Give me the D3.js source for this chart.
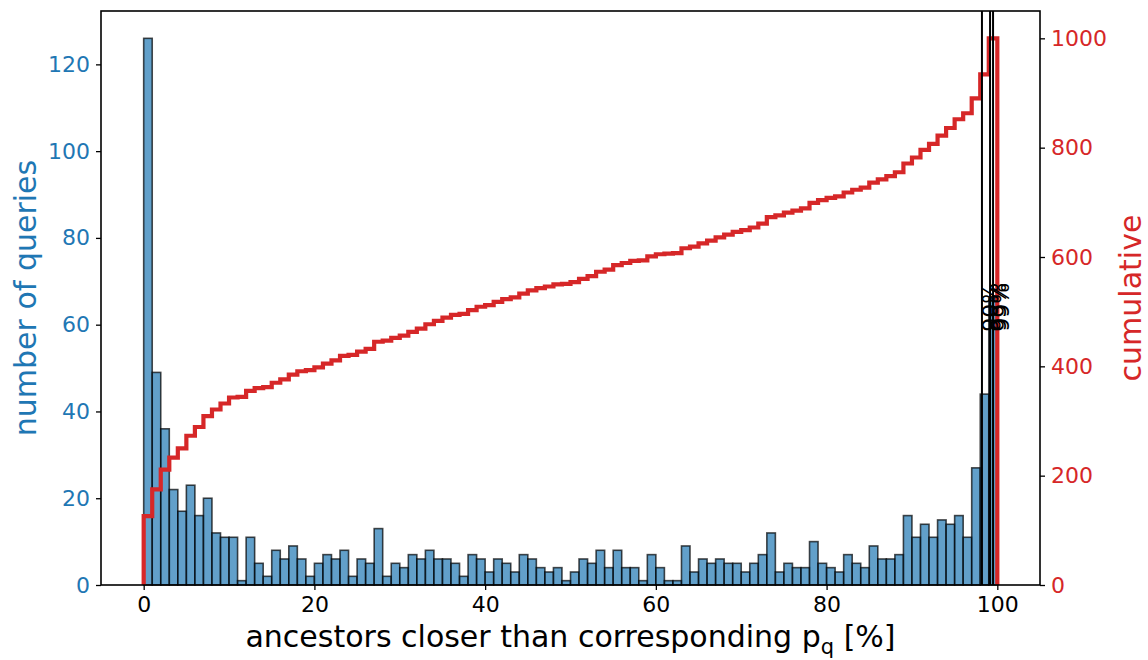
<!DOCTYPE html>
<html>
<head>
<meta charset="utf-8">
<script src="https://cdn.jsdelivr.net/npm/d3@7/dist/d3.min.js"></script>
<style>
  html, body { margin: 0; padding: 0; background: #fff; }
  svg { display: block; font-family: "DejaVu Sans", sans-serif; }
</style>
</head>
<body>
<svg id="chart" width="1148" height="660"></svg>
<script>
// ---- data ----
const binEdges = d3.range(0, 101);           // histogram bin edges, 0..100 (%)
const counts = [
  126, 49, 36, 22, 17, 23, 16, 20, 12, 11,
   11,  1, 11,  5,  2,  8,  6,  9,  6,  2,
    5,  7,  6,  8,  2,  6,  5, 13,  2,  5,
    4,  7,  6,  8,  6,  6,  5,  2,  7,  6,
    3,  6,  5,  3,  7,  6,  4,  3,  4,  1,
    3,  6,  5,  8,  4,  8,  4,  4,  1,  7,
    4,  1,  1,  9,  3,  6,  5,  6,  5,  5,
    3,  5,  7, 12,  3,  5,  4,  4, 10,  5,
    4,  3,  7,  5,  4,  9,  6,  6,  7, 16,
   11, 14, 11, 15, 14, 16, 11, 27, 44, 66
];
const percentileValues = [98.2, 99.15, 99.5];
const percentileLabels = ["90%", "95%", "99%"];
const xTicks = [0, 20, 40, 60, 80, 100];
const leftTicks = [0, 20, 40, 60, 80, 100, 120];
const rightTicks = [0, 200, 400, 600, 800, 1000];

// ---- layout ----
const L = 101, R = 1040, T = 11, B = 585;
const BLUE = "#1f77b4", RED = "#d62728";
const svg = d3.select("#chart");

const cumulative = Array.from(d3.cumsum(counts));
const maxCount = d3.max(counts);
const maxCum = cumulative[cumulative.length - 1];

const x = d3.scaleLinear().domain([-5, 105]).range([L, R]);
const yL = d3.scaleLinear().domain([0, maxCount * 1.05]).range([B, T]);
const yR = d3.scaleLinear().domain([0, maxCum * 1.05]).range([B, T]);

// bars
svg.append("g").selectAll("rect")
  .data(counts)
  .join("rect")
  .attr("x", (d, i) => x(binEdges[i]))
  .attr("width", (d, i) => x(binEdges[i + 1]) - x(binEdges[i]))
  .attr("y", d => yL(d))
  .attr("height", d => yL(0) - yL(d))
  .attr("fill", BLUE).attr("fill-opacity", 0.7)
  .attr("stroke", "#000").attr("stroke-opacity", 0.7)
  .attr("stroke-width", 1.6);

// cumulative step line
const stepPts = [[binEdges[0], 0]];
cumulative.forEach((c, i) => {
  stepPts.push([binEdges[i], c]);
  stepPts.push([binEdges[i + 1], c]);
});
stepPts.push([binEdges[binEdges.length - 1], 0]);
svg.append("path")
  .attr("d", d3.line().x(d => x(d[0])).y(d => yR(d[1]))(stepPts))
  .attr("fill", "none").attr("stroke", RED)
  .attr("stroke-width", 4.2).attr("stroke-linejoin", "miter");

// percentile lines
const pg = svg.append("g");
percentileValues.forEach((v, i) => {
  pg.append("line")
    .attr("x1", x(v)).attr("x2", x(v))
    .attr("y1", T).attr("y2", B)
    .attr("stroke", "#000").attr("stroke-width", 2);
  const tx = x(v) + 16, ty = yL(60) + 7;
  pg.append("text")
    .attr("transform", `translate(${tx},${ty}) rotate(-90)`)
    .attr("font-size", 22).attr("fill", "#000")
    .attr("text-anchor", "start")
    .text(percentileLabels[i]);
});

// spines
svg.append("rect").attr("x", L).attr("y", T).attr("width", R - L).attr("height", B - T)
  .attr("fill", "none").attr("stroke", "#000").attr("stroke-width", 1.6);

// axes
const xAxis = d3.axisBottom(x).tickValues(xTicks).tickSize(5).tickPadding(6).tickFormat(d3.format("d"));
const gx = svg.append("g").attr("transform", `translate(0,${B})`).call(xAxis);
gx.select(".domain").remove();
gx.selectAll("line").attr("stroke", "#000").attr("stroke-width", 1.3);
gx.selectAll("text").attr("font-size", 22).attr("fill", "#000").attr("font-family", "DejaVu Sans");

const yAxisL = d3.axisLeft(yL).tickValues(leftTicks).tickSize(5).tickPadding(6).tickFormat(d3.format("d"));
const gyl = svg.append("g").attr("transform", `translate(${L},0)`).call(yAxisL);
gyl.select(".domain").remove();
gyl.selectAll("line").attr("stroke", "#000").attr("stroke-width", 1.3);
gyl.selectAll("text").attr("font-size", 22).attr("fill", BLUE).attr("font-family", "DejaVu Sans");

const yAxisR = d3.axisRight(yR).tickValues(rightTicks).tickSize(5).tickPadding(6).tickFormat(d3.format("d"));
const gyr = svg.append("g").attr("transform", `translate(${R},0)`).call(yAxisR);
gyr.select(".domain").remove();
gyr.selectAll("line").attr("stroke", "#000").attr("stroke-width", 1.3);
gyr.selectAll("text").attr("font-size", 22).attr("fill", RED).attr("font-family", "DejaVu Sans");

// axis labels
const xl = svg.append("text")
  .attr("x", (L + R) / 2).attr("y", 647)
  .attr("text-anchor", "middle").attr("font-size", 30).attr("fill", "#000");
xl.append("tspan").text("ancestors closer than corresponding p");
xl.append("tspan").attr("font-size", 21).attr("dy", 7).text("q");
xl.append("tspan").attr("dy", -7).text(" [%]");

svg.append("text")
  .attr("transform", `translate(36,${(T + B) / 2}) rotate(-90)`)
  .attr("text-anchor", "middle").attr("font-size", 30).attr("fill", BLUE)
  .text("number of queries");

svg.append("text")
  .attr("transform", `translate(1141,${(T + B) / 2}) rotate(-90)`)
  .attr("text-anchor", "middle").attr("font-size", 30).attr("fill", RED)
  .text("cumulative");
</script>
</body>
</html>
